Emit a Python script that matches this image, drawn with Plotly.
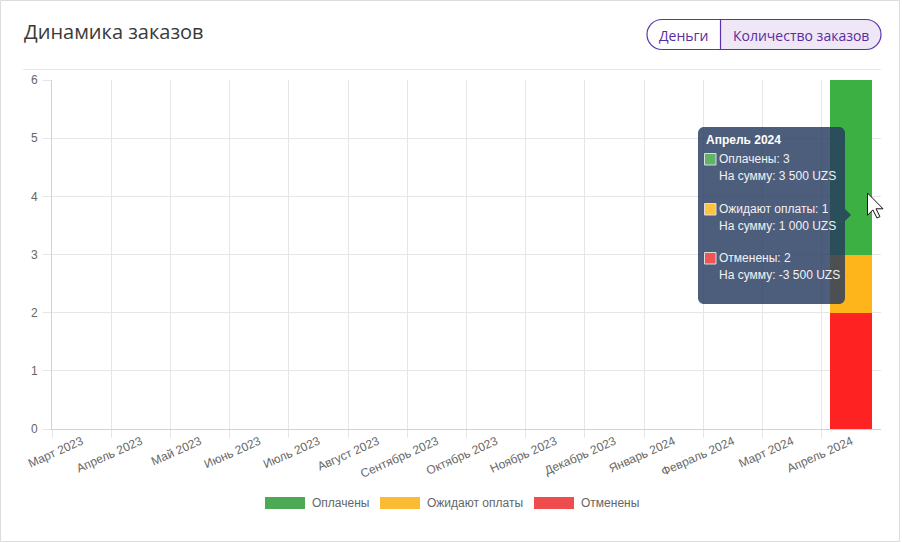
import plotly.graph_objects as go

# ---------------- data ----------------
months = ["Март 2023", "Апрель 2023", "Май 2023", "Июнь 2023", "Июль 2023",
          "Август 2023", "Сентябрь 2023", "Октябрь 2023", "Ноябрь 2023",
          "Декабрь 2023", "Январь 2024", "Февраль 2024", "Март 2024", "Апрель 2024"]
cancelled = [0, 0, 0, 0, 0, 0, 0, 0, 0, 0, 0, 0, 0, 2]
pending = [0, 0, 0, 0, 0, 0, 0, 0, 0, 0, 0, 0, 0, 1]
paid = [0, 0, 0, 0, 0, 0, 0, 0, 0, 0, 0, 0, 0, 3]
series_names = ["Оплачены", "Ожидают оплаты", "Отменены"]
bar_colors = {"Оплачены": "#3cb043", "Ожидают оплаты": "#fdb51b", "Отменены": "#ff2222"}
legend_colors = {"Оплачены": "#4caa55", "Ожидают оплаты": "#fbbc33", "Отменены": "#ef4d4d"}
tooltip_title = "Апрель 2024"
tooltip_lines = [("Оплачены: 3", "На сумму: 3 500 UZS"),
                 ("Ожидают оплаты: 1", "На сумму: 1 000 UZS"),
                 ("Отменены: 2", "На сумму: -3 500 UZS")]
y_ticks = [0, 1, 2, 3, 4, 5, 6]

# ---------------- geometry helpers (pixel -> paper) ----------------
W, H = 902, 543
L, R, T, B = 52, 881, 80, 429
PW, PH = R - L, B - T


def px(x):
    return (x - L) / PW


def py(y):
    return (B - y) / PH


def pt(x, y):
    return f"{px(x):.5f},{py(y):.5f}"


K = 0.5523


def rounded_rect(x0, y0, x1, y1, r):
    k = K * r
    return (f"M {pt(x0 + r, y0)} L {pt(x1 - r, y0)} "
            f"C {pt(x1 - r + k, y0)} {pt(x1, y0 + r - k)} {pt(x1, y0 + r)} "
            f"L {pt(x1, y1 - r)} "
            f"C {pt(x1, y1 - r + k)} {pt(x1 - r + k, y1)} {pt(x1 - r, y1)} "
            f"L {pt(x0 + r, y1)} "
            f"C {pt(x0 + r - k, y1)} {pt(x0, y1 - r + k)} {pt(x0, y1 - r)} "
            f"L {pt(x0, y0 + r)} "
            f"C {pt(x0, y0 + r - k)} {pt(x0 + r - k, y0)} {pt(x0 + r, y0)} Z")


def right_pill(x0, y0, x1, y1, r):
    k = K * r
    return (f"M {pt(x0, y0)} L {pt(x1 - r, y0)} "
            f"C {pt(x1 - r + k, y0)} {pt(x1, y0 + r - k)} {pt(x1, y0 + r)} "
            f"C {pt(x1, y0 + r + k)} {pt(x1 - r + k, y1)} {pt(x1 - r, y1)} "
            f"L {pt(x0, y1)} Z")


def poly(points):
    return "M " + " L ".join(pt(x, y) for x, y in points) + " Z"


fig = go.Figure()
xs = list(range(len(months)))
for name, vals in [("Отменены", cancelled), ("Ожидают оплаты", pending), ("Оплачены", paid)]:
    fig.add_trace(go.Bar(x=xs, y=vals, name=name, marker_color=bar_colors[name],
                         marker_line_width=0, width=0.71, showlegend=False,
                         hoverinfo="skip"))

shapes = []
annotations = []

# card border
shapes.append(dict(type="rect", xref="paper", yref="paper",
                   x0=px(0.5), x1=px(899.5), y0=py(541.5), y1=py(0.5),
                   line=dict(color="#dcdcdc", width=1), layer="below"))
# header separator
shapes.append(dict(type="line", xref="paper", yref="paper",
                   x0=px(23), x1=px(881), y0=py(69.5), y1=py(69.5),
                   line=dict(color="#e3e8ee", width=1)))
# title
annotations.append(dict(text="Динамика заказов", xref="paper", yref="paper",
                        x=px(22), y=py(31), xanchor="left", yanchor="middle",
                        showarrow=False,
                        font=dict(family="Open Sans", size=20, color="#3a3a3a")))
# toggle buttons
shapes.append(dict(type="path", xref="paper", yref="paper",
                   path=right_pill(720.5, 19.5, 881, 49.5, 15),
                   fillcolor="#efe7f6", line=dict(width=0)))
shapes.append(dict(type="path", xref="paper", yref="paper",
                   path=rounded_rect(647, 19.5, 881, 49.5, 15),
                   fillcolor="rgba(0,0,0,0)", line=dict(color="#5a33b0", width=1.2)))
shapes.append(dict(type="line", xref="paper", yref="paper",
                   x0=px(720.5), x1=px(720.5), y0=py(19.5), y1=py(49.5),
                   line=dict(color="#5a33b0", width=1.2)))
annotations.append(dict(text="Деньги", xref="paper", yref="paper",
                        x=px(683.5), y=py(35), xanchor="center", yanchor="middle",
                        showarrow=False,
                        font=dict(family="Open Sans", size=14, color="#5a2ca0")))
annotations.append(dict(text="Количество заказов", xref="paper", yref="paper",
                        x=px(801), y=py(35), xanchor="center", yanchor="middle",
                        showarrow=False,
                        font=dict(family="Open Sans", size=14, color="#5a2ca0")))

# legend (drawn manually, Chart.js style)
legend_pos = [("Оплачены", 265), ("Ожидают оплаты", 380), ("Отменены", 534)]
for name, lx in legend_pos:
    shapes.append(dict(type="rect", xref="paper", yref="paper",
                       x0=px(lx), x1=px(lx + 40), y0=py(509), y1=py(497),
                       fillcolor=legend_colors[name], line=dict(width=0)))
    annotations.append(dict(text=name, xref="paper", yref="paper",
                            x=px(lx + 45), y=py(503), xanchor="left", yanchor="middle",
                            showarrow=False,
                            font=dict(family="Liberation Sans, Arial", size=12, color="#666666")))

# tooltip
tip_fill = "rgba(38,57,95,0.82)"
shapes.append(dict(type="path", xref="paper", yref="paper",
                   path=rounded_rect(698, 127, 845, 304, 6),
                   fillcolor=tip_fill, line=dict(width=0)))
shapes.append(dict(type="path", xref="paper", yref="paper",
                   path=poly([(845, 209), (851, 215), (845, 221)]),
                   fillcolor=tip_fill, line=dict(width=0)))
annotations.append(dict(text="<b>" + tooltip_title + "</b>", xref="paper", yref="paper",
                        x=px(704), y=py(140), xanchor="left", yanchor="middle",
                        showarrow=False,
                        font=dict(family="Liberation Sans, Arial", size=12, color="#ffffff")))
tip_rows = [159, 209, 258]
tip_sq_colors = ["#5fb468", "#ffc340", "#ee5656"]
for (l1, l2), ry, sc in zip(tooltip_lines, tip_rows, tip_sq_colors):
    shapes.append(dict(type="rect", xref="paper", yref="paper",
                       x0=px(704.5), x1=px(716), y0=py(ry + 6), y1=py(ry - 5.5),
                       fillcolor=sc, line=dict(color="#dddddd", width=1)))
    annotations.append(dict(text=l1, xref="paper", yref="paper",
                            x=px(717), y=py(ry), xanchor="left", yanchor="middle",
                            showarrow=False,
                            font=dict(family="Liberation Sans, Arial", size=12, color="#f2f2f2")))
    annotations.append(dict(text=l2, xref="paper", yref="paper",
                            x=px(717), y=py(ry + 17), xanchor="left", yanchor="middle",
                            showarrow=False,
                            font=dict(family="Liberation Sans, Arial", size=12, color="#f2f2f2")))

# mouse cursor
cx, cy, s = 867.5, 193, 1.35
cursor = [(0, 0), (0, 16.5), (4, 12.5), (7, 18.5), (9.2, 17.5), (6.3, 11.7), (11.5, 11.7)]
shapes.append(dict(type="path", xref="paper", yref="paper",
                   path=poly([(cx + a * s, cy + b * s) for a, b in cursor]),
                   fillcolor="#ffffff", line=dict(color="#111111", width=1)))

grid_c = "#e6e6e6"
axis_c = "#d2d2d2"
fig.update_layout(
    width=W, height=H,
    margin=dict(l=L, r=W - R, t=T, b=H - B, pad=0),
    paper_bgcolor="#ffffff", plot_bgcolor="#ffffff",
    barmode="stack", bargap=0,
    showlegend=False,
    shapes=shapes, annotations=annotations,
    font=dict(family="Liberation Sans, Arial", size=12, color="#666666"),
    xaxis=dict(range=[-0.5, len(months) - 0.5], tickmode="array", tickvals=xs,
               ticktext=months, tickangle=-24, showgrid=False, ticks="",
               showline=True, linecolor=axis_c, linewidth=1, zeroline=False,
               tickfont=dict(family="Liberation Sans, Arial", size=12, color="#666666"),
               minor=dict(tickmode="array", tickvals=[i - 0.5 for i in xs],
                          showgrid=True, gridcolor=grid_c, gridwidth=1,
                          ticks="outside", ticklen=8, tickcolor=grid_c)),
    yaxis=dict(range=[0, 6], tickmode="array", tickvals=y_ticks, showgrid=True,
               gridcolor=grid_c, gridwidth=1, ticks="outside", ticklen=8,
               tickcolor=grid_c, showline=True, linecolor=axis_c, linewidth=1,
               zeroline=False, ticklabelstandoff=3,
               tickfont=dict(family="Liberation Sans, Arial", size=12, color="#666666")),
)

fig.write_html("out.html")
